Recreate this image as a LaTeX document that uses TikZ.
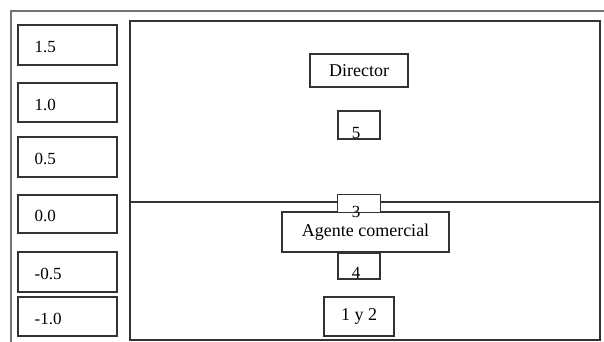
\documentclass[tikz,border=0pt]{standalone}
\usepackage{fontspec}
\setmainfont{Liberation Serif}
\usetikzlibrary{positioning}

\begin{document}
\begin{tikzpicture}[x=1pt,y=-1pt,
    ln/.style={draw=black!80,line width=1.1pt},
    scalebox/.style={ln,minimum width=99pt,inner sep=0pt},
    val/.style={font=\fontsize{17}{20}\selectfont,inner sep=0pt,anchor=west},
    rolebox/.style={ln,fill=white,inner sep=0pt,
                    font=\fontsize{18}{21}\selectfont},
    numbox/.style={ln,fill=white,minimum width=42pt,inner sep=0pt},
    numtxt/.style={font=\fontsize{17}{20}\selectfont,inner sep=0pt,anchor=south},
]
\useasboundingbox (0,0) rectangle (604,342);

% ---- Outer frame ---------------------------------------------------------
\coordinate (fr_tr) at (604,11);
\coordinate (fr_bl) at (11,342);
\draw[draw=black!55,line width=1.2pt] (fr_bl) |- (fr_tr);

% ---- Main area -----------------------------------------------------------
\node[ln,minimum width=470pt,minimum height=319pt,inner sep=0pt]
    (area) at (365,180.5) {};
\coordinate (div_l) at (130,202);
\coordinate (div_r) at (600,202);
\draw[ln] (div_l) -- (div_r);

% ---- Scale ---------------------------------------------------------------
\node[scalebox,minimum height=40pt] (s15) at (67.5,45)    {};
\node[scalebox,minimum height=39pt] (s10) at (67.5,102.5) {};
\node[scalebox,minimum height=40pt] (s05) at (67.5,157)   {};
\node[scalebox,minimum height=38pt] (s00) at (67.5,214)   {};
\node[scalebox,minimum height=40pt] (sm05) at (67.5,272)  {};
\node[scalebox,minimum height=39pt] (sm10) at (67.5,316.5){};
\node[val] (v15)  at ([xshift=17pt,yshift=-2pt]s15.west)  {1.5};
\node[val] (v10)  at ([xshift=17pt,yshift=-2pt]s10.west)  {1.0};
\node[val] (v05)  at ([xshift=17pt,yshift=-2pt]s05.west)  {0.5};
\node[val] (v00)  at ([xshift=17pt,yshift=-2pt]s00.west)  {0.0};
\node[val] (vm05) at ([xshift=17pt,yshift=-2pt]sm05.west) {-0.5};
\node[val] (vm10) at ([xshift=17pt,yshift=-2pt]sm10.west) {-1.0};

% ---- Director ------------------------------------------------------------
\node[rolebox,minimum width=98pt,minimum height=33pt] (dir) at (359,70.5) {Director};
\node[numbox,minimum height=28pt] (n5) at (359,125) {};
\node[numtxt] (t5) at ([xshift=-3pt,yshift=1pt]n5.south) {5};

% ---- Agente comercial ----------------------------------------------------
\node[rolebox,minimum width=167pt,minimum height=40pt] (ag) at (365.5,232)
    {Agente comercial};
\node[numbox,draw=none,minimum height=17pt] (n3) at (359,203.5) {};
\draw[ln] (n3.south west) |- (n3.north east) -- (n3.south east);
\node[numtxt] (t3) at ([xshift=-3pt,yshift=-5pt]n3.south) {3};
\node[numbox,minimum height=26pt] (n4) at (359,266) {};
\node[numtxt] (t4) at ([xshift=-3pt,yshift=1pt]n4.south) {4};

% ---- 1 y 2 ---------------------------------------------------------------
\node[rolebox,minimum width=70pt,minimum height=39pt] (n12) at (359,316.5) {1 y 2};

\end{tikzpicture}
\end{document}
